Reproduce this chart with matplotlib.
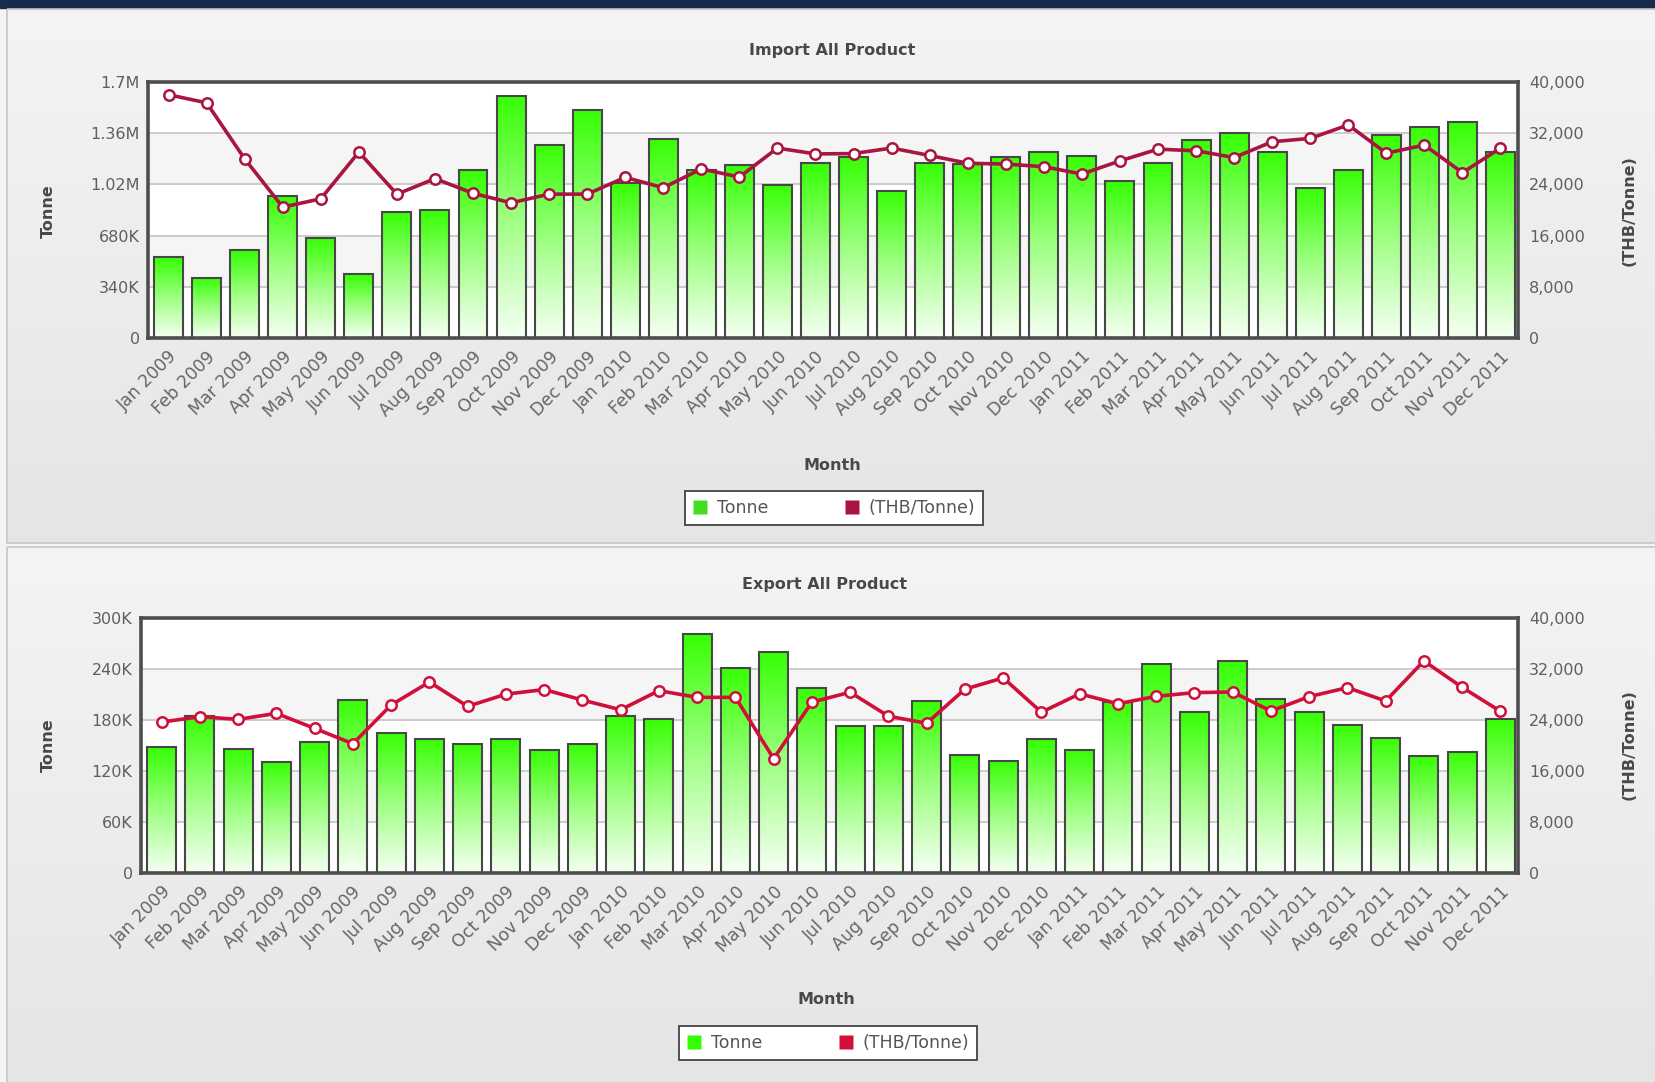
import numpy as np
import matplotlib.pyplot as plt
from matplotlib.colors import LinearSegmentedColormap
from matplotlib.lines import Line2D
from matplotlib.patches import Rectangle
from matplotlib.ticker import FuncFormatter

plt.rcParams['font.family'] = ['DejaVu Sans']

# ── Data ────────────────────────────────────────────────────────────────────
months = ["Jan 2009", "Feb 2009", "Mar 2009", "Apr 2009", "May 2009", "Jun 2009",
          "Jul 2009", "Aug 2009", "Sep 2009", "Oct 2009", "Nov 2009", "Dec 2009",
          "Jan 2010", "Feb 2010", "Mar 2010", "Apr 2010", "May 2010", "Jun 2010",
          "Jul 2010", "Aug 2010", "Sep 2010", "Oct 2010", "Nov 2010", "Dec 2010",
          "Jan 2011", "Feb 2011", "Mar 2011", "Apr 2011", "May 2011", "Jun 2011",
          "Jul 2011", "Aug 2011", "Sep 2011", "Oct 2011", "Nov 2011", "Dec 2011"]

import_tonne = [535000, 401000, 584000, 946000, 666000, 423000, 837000, 850000,
                1115000, 1610000, 1283000, 1514000, 1029000, 1320000, 1116000,
                1150000, 1017000, 1162000, 1200000, 979000, 1161000, 1158000,
                1199000, 1234000, 1211000, 1040000, 1165000, 1313000, 1359000,
                1238000, 997000, 1116000, 1348000, 1399000, 1433000, 1238000]
import_price = [38010, 36750, 28000, 20450, 21750, 29050, 22470, 24900, 22620,
                21120, 22480, 22480, 25100, 23480, 26420, 25150, 29680, 28760,
                28820, 29680, 28520, 27300, 27180, 26770, 25620, 27670, 29510,
                29250, 28200, 30660, 31190, 33290, 28880, 30140, 25840, 29670]

export_tonne = [147700, 184300, 145300, 130600, 154000, 203200, 164800, 157800,
                152000, 157800, 144800, 151800, 184800, 180800, 281100, 240800,
                259800, 217300, 172200, 172200, 202300, 138600, 131800, 157300,
                144500, 201000, 245800, 189000, 249000, 203900, 189000, 174100,
                158800, 137300, 142000, 180400]
export_price = [23630, 24470, 24050, 24990, 22640, 20240, 26300, 29900, 26090,
                28000, 28720, 27080, 25550, 28550, 27500, 27500, 17900, 26750,
                28300, 24550, 23450, 28780, 30550, 25170, 28050, 26500, 27660,
                28240, 28340, 25360, 27610, 29020, 26930, 33200, 29070, 25310]

import_left_ticks = [0, 340000, 680000, 1020000, 1360000, 1700000]
import_left_labels = ["0", "340K", "680K", "1.02M", "1.36M", "1.7M"]
export_left_ticks = [0, 60000, 120000, 180000, 240000, 300000]
export_left_labels = ["0", "60K", "120K", "180K", "240K", "300K"]
right_ticks = [0, 8000, 16000, 24000, 32000, 40000]

W, H = 1655, 1082
fig = plt.figure(figsize=(W / 100, H / 100), dpi=100, facecolor="#f3f3f3")

# ── page background: navy strip + two gradient panels ───────────────────────
bg = fig.add_axes([0, 0, 1, 1], zorder=-5)
bg.set_xlim(0, W); bg.set_ylim(H, 0); bg.axis("off")
bg.add_patch(Rectangle((0, 0), W, 8, color="#172b4b"))
panel_cmap = LinearSegmentedColormap.from_list("panel", ["#f4f4f4", "#e5e5e5"])
vgrad = np.linspace(0, 1, 256).reshape(-1, 1)
for top, bot in [(9, 543), (547, H + 2)]:
    bg.imshow(vgrad, cmap=panel_cmap, extent=[7, W + 2, bot, top], aspect="auto")
    bg.add_patch(Rectangle((7, top), W, bot - top, fill=False, ec="#c6c6c6", lw=1.2))
bg.set_xlim(0, W); bg.set_ylim(H, 0)

green_cmap = LinearSegmentedColormap.from_list("green", ["#f6fff4", "#9eff82", "#36ff04"])
shift = 0.04  # bars sit a touch right of the slot centre in the original


def draw_panel(rect, title, title_xy, month_xy, ylab_y, tonne, price,
               left_ticks, left_labels, line_color, legend_xy, legend_green):
    ax = fig.add_axes(rect)
    ax.set_facecolor("white")
    x = np.arange(len(months)) + shift
    top = left_ticks[-1]

    # alternating bands + grid lines
    for i in range(len(left_ticks) - 1):
        if i % 2 == 1:
            ax.axhspan(left_ticks[i], left_ticks[i + 1], color="#f5f5f5", zorder=0)
    for t in left_ticks[1:-1]:
        ax.axhline(t, color="#c8c8c8", lw=1.3, zorder=1)

    bars = ax.bar(x, tonne, width=0.76, facecolor="none", edgecolor="#474747",
                  linewidth=1.5, zorder=3)
    for b in bars:
        x0, w, h = b.get_x(), b.get_width(), b.get_height()
        im = ax.imshow(vgrad[::-1], cmap=green_cmap, extent=[x0, x0 + w, 0, h],
                       aspect="auto", zorder=2)
        im.set_clip_path(b)

    ax.set_xlim(-0.5, len(months) - 0.5)
    ax.set_ylim(0, top)
    ax.set_yticks(left_ticks)
    ax.set_yticklabels(left_labels)
    ax.set_xticks(x)
    ax.set_xticklabels(months, rotation=45, ha="right", rotation_mode="anchor")
    ax.tick_params(length=0, labelcolor="#5f5f5f")
    ax.tick_params(axis="y", pad=6, labelsize=11.5)
    ax.tick_params(axis="x", pad=7, labelsize=12.5, labelcolor="#666666")
    for s in ax.spines.values():
        s.set_color("#4e4e4e"); s.set_linewidth(2.6); s.set_zorder(6)

    ax2 = ax.twinx()
    ax2.plot(x, price, color=line_color, lw=2.6, marker="o", ms=7.5,
             mfc="white", mec=line_color, mew=1.8, zorder=5)
    ax2.set_ylim(0, 40000)
    ax2.set_yticks(right_ticks)
    ax2.yaxis.set_major_formatter(FuncFormatter(lambda v, p: f"{v:,.0f}"))
    ax2.tick_params(length=0, labelsize=11.5, labelcolor="#5f5f5f", pad=8)
    for s in ax2.spines.values():
        s.set_visible(False)

    fig.text(title_xy[0] / W, 1 - title_xy[1] / H, title, ha="center", va="center",
             fontsize=11.5, fontweight="bold", color="#484848")
    fig.text(month_xy[0] / W, 1 - month_xy[1] / H, "Month", ha="center", va="center",
             fontsize=11.5, fontweight="bold", color="#484848")
    fig.text(48 / W, 1 - ylab_y / H, "Tonne", rotation=90, ha="center", va="center",
             fontsize=11.5, fontweight="bold", color="#484848")
    fig.text(1629 / W, 1 - ylab_y / H, "(THB/Tonne)", rotation=90, ha="center",
             va="center", fontsize=11.5, fontweight="bold", color="#484848")

    handles = [Line2D([], [], ls="none", marker="s", ms=10, mfc=legend_green, mec="none"),
               Line2D([], [], ls="none", marker="s", ms=10, mfc=line_color, mec="none")]
    leg = fig.legend(handles, ["Tonne", "(THB/Tonne)"], ncol=2, loc="center",
                     bbox_to_anchor=(legend_xy[0] / W, 1 - legend_xy[1] / H),
                     frameon=True, fancybox=False, fontsize=12.5, columnspacing=4.4,
                     handlelength=0.9, handletextpad=0.5, borderpad=0.45,
                     labelcolor="#555555")
    leg.get_frame().set_edgecolor("#444444")
    leg.get_frame().set_linewidth(1.3)
    leg.get_frame().set_facecolor("white")
    leg.get_frame().set_alpha(1)


draw_panel([148 / W, 1 - 338 / H, 1370 / W, 256 / H], "Import All Product",
           (832, 50), (832, 465), 211, import_tonne, import_price,
           import_left_ticks, import_left_labels, "#a8163f", (834, 508), "#44dd22")

draw_panel([141 / W, 1 - 873 / H, 1377 / W, 255.5 / H], "Export All Product",
           (825, 585), (826, 1000), 745, export_tonne, export_price,
           export_left_ticks, export_left_labels, "#d0103a", (828, 1043), "#33ff00")

plt.savefig("out.png", dpi=100, facecolor=fig.get_facecolor())
